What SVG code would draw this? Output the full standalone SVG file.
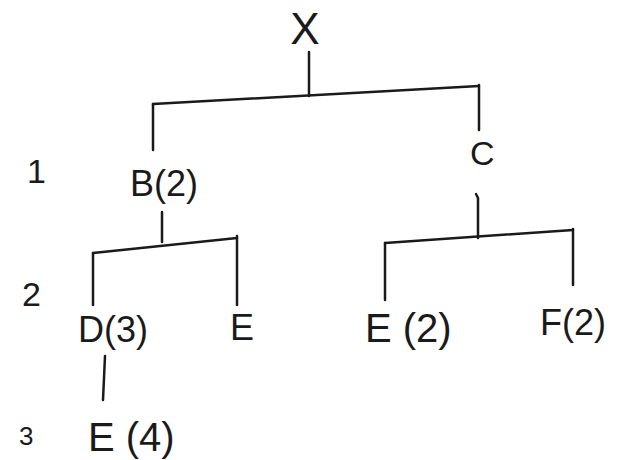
<svg xmlns="http://www.w3.org/2000/svg" width="619" height="460" viewBox="0 0 619 460">
<style>
.t{font-family:"Liberation Sans",Arial,sans-serif;fill:#1a1a1a;}
.c path{fill:none;stroke:#1a1a1a;stroke-width:2.5;stroke-linecap:round;}
</style>
<rect width="619" height="460" fill="#ffffff"/>
<g class="c" id="connectors">
<path d="M309,52 L309,96"/>
<path d="M153,104 L479,86"/>
<path d="M153,104 L153,150"/>
<path d="M479,85 L479,130"/>
<path d="M162,212 L162,242"/>
<path d="M93,253 L237,238"/>
<path d="M93,253 L93,305"/>
<path d="M237,236 L237,305"/>
<path d="M476,194 L478,198 L478,238"/>
<path d="M385,243 L573,230"/>
<path d="M385,243 L385,300"/>
<path d="M573,229 L573,285"/>
<path d="M105,356 L103,400"/>
</g>
<g id="node-x"><text class="t" x="305" y="44" font-size="44" text-anchor="middle">X</text></g>
<g id="node-b"><text class="t" x="130" y="196" font-size="36">B(2)</text></g>
<g id="node-c"><text class="t" x="470" y="165" font-size="34">C</text></g>
<g id="node-d"><text class="t" x="78" y="342" font-size="36">D(3)</text></g>
<g id="node-e1"><text class="t" x="230" y="340" font-size="36">E</text></g>
<g id="node-e2"><text class="t" x="365" y="342" font-size="40">E (2)</text></g>
<g id="node-f"><text class="t" x="540" y="335" font-size="36">F(2)</text></g>
<g id="node-e4"><text class="t" x="88" y="451" font-size="40">E (4)</text></g>
<g id="levels">
<text class="t" x="27" y="183" font-size="34">1</text>
<text class="t" x="22" y="306" font-size="34">2</text>
<text class="t" x="19" y="445" font-size="26">3</text>
</g>
</svg>
